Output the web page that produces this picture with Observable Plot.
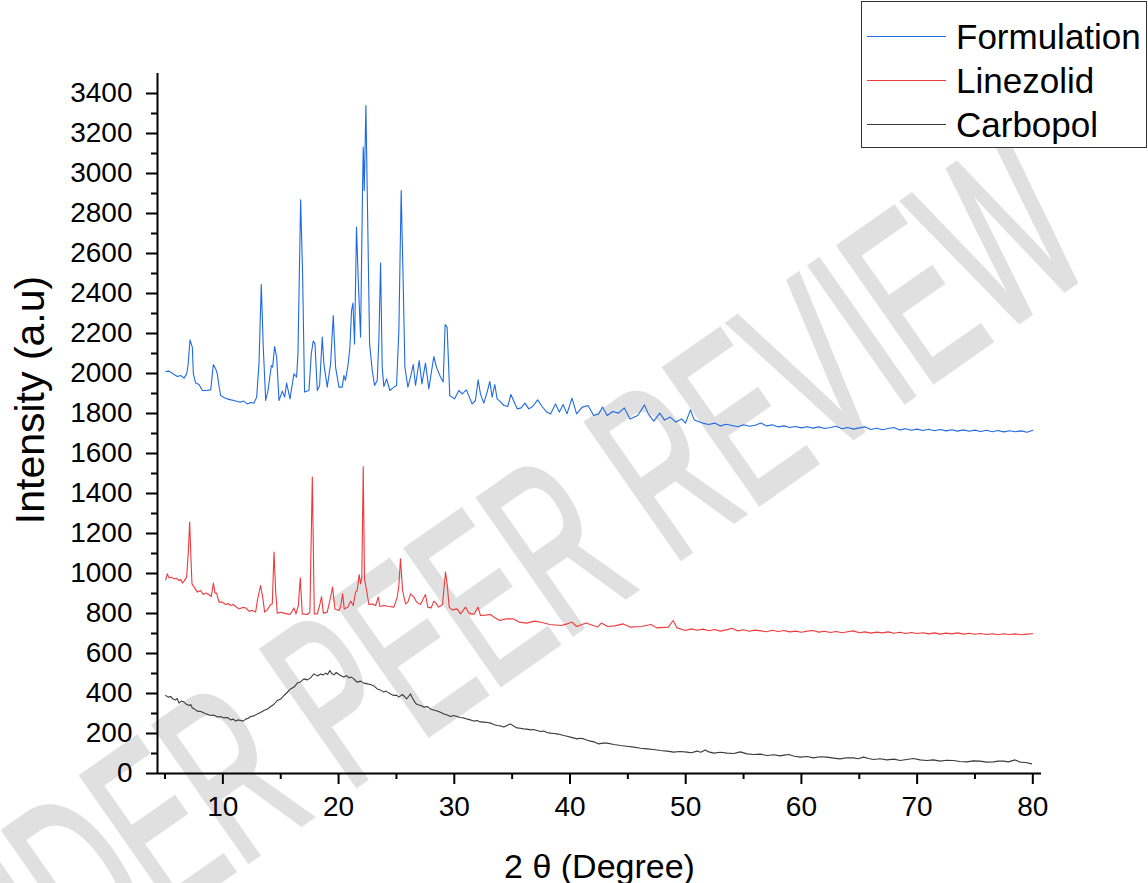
<!DOCTYPE html>
<html>
<head>
<meta charset="utf-8">
<script src="https://cdn.jsdelivr.net/npm/d3@7"></script>
<script src="https://cdn.jsdelivr.net/npm/@observablehq/plot@0.6"></script>
<style>
html, body { margin: 0; padding: 0; background: #fff; }
#wrap { position: relative; width: 1148px; height: 883px; overflow: hidden; font-family: "Liberation Sans", Arial, sans-serif; }
#wm { position: absolute; left: 468px; top: 606px; transform: translate(-50%, -50%) rotate(-35deg) scaleX(0.55);
      font-size: 240px; line-height: 1; white-space: nowrap; color: #e0e0e0; -webkit-text-stroke: 5px #e0e0e0; z-index: 0; }
#chart { position: absolute; left: 0; top: 0; z-index: 1; }
#ytitle { position: absolute; left: 30px; top: 400px; transform: translate(-50%, -50%) rotate(-90deg);
          font-size: 41px; line-height: 1; white-space: nowrap; color: #000; z-index: 2; }
#legend { position: absolute; left: 861px; top: 1px; width: 286px; height: 147px; border: 1px solid #333;
          box-sizing: border-box; background: #fff; z-index: 2; }
.sw { position: absolute; left: 5px; width: 79px; height: 1.3px; }
.lt { position: absolute; left: 94px; height: 44px; display: flex; align-items: center; font-size: 35px; color: #000; white-space: nowrap; }
</style>
</head>
<body>
<div id="wrap">
  <div id="wm">UNDER PEER REVIEW</div>
  <div id="chart"></div>
  <div id="ytitle"></div>
  <div id="legend"></div>
</div>
<script>
// ---- series names & colours ----
const seriesNames = ["Formulation", "Linezolid", "Carbopol"];
const seriesColors = ["#1f6ae2", "#ee3a3d", "#3a3a3a"];

// ---- axis settings ----
const xTitle = "2 θ (Degree)";
const yTitle = "Intensity (a.u)";
const xDomain = [4.35, 80.75];
const yDomain = [0, 3500];
const xTicks = [10, 20, 30, 40, 50, 60, 70, 80];
const xMinorTicks = [5, 15, 25, 35, 45, 55, 65, 75];
const yTicks = [0, 200, 400, 600, 800, 1000, 1200, 1400, 1600, 1800, 2000, 2200, 2400, 2600, 2800, 3000, 3200, 3400];
const yMinorTicks = [100, 300, 500, 700, 900, 1100, 1300, 1500, 1700, 1900, 2100, 2300, 2500, 2700, 2900, 3100, 3300];

// ---- data: [2θ, intensity] ----
const formulation = [
[5.06,2010],[5.35,2012],[5.78,1995],[6.07,1985],[6.36,1990],[6.64,1977],[6.87,1998],[6.99,2040],[7.16,2168],[7.36,2132],
[7.45,1998],[7.65,1952],[7.94,1945],[8.23,1915],[8.51,1915],[8.95,1918],[9.09,1998],[9.18,2045],[9.38,2023],[9.52,1998],
[9.67,1935],[9.81,1890],[10.1,1880],[10.39,1873],[10.7,1868],[10.96,1865],[11.25,1860],[11.54,1857],[11.8,1862],[12.11,1848],
[12.4,1855],[12.69,1852],[12.92,1882],[13.12,2048],[13.32,2445],[13.49,2132],[13.70,1865],[13.90,1915],[14.19,2040],[14.3,2032],
[14.47,2135],[14.65,2082],[14.85,1865],[15.14,1912],[15.34,1882],[15.51,1952],[15.80,1873],[16.14,1998],[16.37,1982],[16.49,2098],
[16.72,2868],[16.89,2498],[17.06,1907],[17.44,1915],[17.64,2098],[17.81,2162],[17.96,2148],[18.16,1915],[18.36,1940],[18.59,2182],
[18.73,2048],[19.02,1932],[19.31,2048],[19.54,2290],[19.74,2032],[20.03,1932],[20.32,1932],[20.46,1990],[20.6,1965],[20.81,2040],
[20.98,2132],[21.12,2315],[21.24,2352],[21.38,2148],[21.55,2732],[21.7,2465],[21.9,2182],[22.07,2915],[22.13,3132],[22.22,2915],
[22.36,3340],[22.53,2715],[22.68,2148],[22.91,2015],[23.11,1940],[23.34,1965],[23.48,2165],[23.63,2552],[23.77,2032],[23.91,1935],
[24.15,1973],[24.43,1915],[24.78,1932],[25.01,1940],[25.21,2215],[25.41,2915],[25.58,2465],[25.73,2032],[25.99,1932],[26.22,1982],
[26.45,2045],[26.65,1940],[26.97,2065],[27.2,1948],[27.51,2052],[27.8,1923],[28.23,2085],[28.46,2032],[28.81,1982],[29.04,1957],
[29.21,2245],[29.38,2232],[29.61,1890],[30.02,1873],[30.39,1915],[30.68,1898],[31.05,1918],[31.54,1848],[31.83,1865],[32.06,1968],
[32.26,1898],[32.55,1852],[32.84,1907],[33.07,1960],[33.27,1882],[33.5,1945],[33.7,1873],[33.93,1862],[34.29,1840],[34.62,1835],
[34.89,1895],[35.12,1865],[35.45,1823],[35.78,1828],[36.11,1852],[36.44,1823],[36.77,1835],[37.2,1868],[37.59,1835],[37.99,1807],
[38.32,1798],[38.75,1848],[39.08,1807],[39.41,1845],[39.74,1798],[40.17,1877],[40.57,1798],[41.06,1832],[41.56,1840],[42.05,1790],
[42.48,1798],[42.81,1832],[43.21,1790],[43.7,1810],[44.2,1802],[44.69,1828],[45.19,1773],[45.85,1790],[46.44,1843],[46.77,1798],
[47.24,1762],[47.76,1802],[48.16,1768],[48.66,1782],[49.15,1757],[49.65,1773],[49.98,1752],[50.41,1818],[50.74,1768],[51.46,1752],
[52.0,1745],[52.5,1752],[53.0,1738],[53.5,1746],[54.0,1740],[54.5,1734],[55.0,1744],[55.5,1736],[56.0,1741],[56.5,1752],
[57.0,1738],[57.5,1744],[58.0,1733],[58.5,1738],[59.0,1730],[59.5,1735],[60.0,1728],[60.5,1734],[61.0,1727],[61.5,1733],
[62.0,1725],[62.5,1730],[63.0,1736],[63.5,1724],[64.0,1730],[64.5,1722],[65.0,1728],[65.5,1733],[66.0,1720],[66.5,1726],
[67.0,1719],[67.5,1725],[68.0,1730],[68.5,1718],[69.0,1724],[69.5,1716],[70.0,1722],[70.5,1715],[71.0,1721],[71.5,1714],
[72.0,1720],[72.5,1713],[73.0,1719],[73.5,1712],[74.0,1718],[74.5,1711],[75.0,1717],[75.5,1710],[76.0,1716],[76.5,1709],
[77.0,1715],[77.5,1708],[78.0,1714],[78.5,1709],[79.0,1713],[79.5,1706],[80.0,1716]
];

const linezolid = [
[5.06,968],[5.2,998],[5.35,978],[5.55,982],[5.78,973],[6.0,976],[6.21,965],[6.35,970],[6.5,952],[6.64,962],
[6.87,982],[7.02,1115],[7.13,1257],[7.25,1065],[7.33,948],[7.56,928],[7.79,907],[8.08,915],[8.31,895],[8.51,902],
[8.8,895],[9.0,885],[9.18,952],[9.32,902],[9.46,902],[9.67,857],[9.95,857],[10.24,845],[10.45,850],[10.67,840],
[10.9,845],[11.11,835],[11.39,823],[11.7,830],[11.97,828],[12.26,812],[12.55,815],[12.83,807],[12.98,865],[13.26,940],
[13.44,882],[13.61,807],[13.84,818],[14.13,845],[14.27,848],[14.42,1107],[14.56,915],[14.7,802],[15.0,806],[15.28,802],
[15.55,798],[15.8,795],[16.0,812],[16.14,828],[16.32,798],[16.52,840],[16.69,978],[16.86,798],[17.29,795],[17.52,807],
[17.73,1482],[17.9,798],[18.16,798],[18.36,840],[18.53,885],[18.68,802],[19.02,807],[19.31,882],[19.48,932],[19.68,823],
[20.03,815],[20.17,832],[20.35,898],[20.49,823],[20.81,832],[21.04,862],[21.27,840],[21.47,907],[21.61,915],[21.78,995],
[21.9,948],[22.01,982],[22.13,1535],[22.24,973],[22.42,915],[22.62,845],[22.91,848],[23.2,840],[23.43,882],[23.57,835],
[23.91,840],[24.35,835],[24.78,832],[25.07,882],[25.21,940],[25.35,1073],[25.53,915],[25.79,848],[25.99,857],[26.22,898],
[26.51,882],[26.74,857],[27.08,845],[27.31,873],[27.51,895],[27.71,832],[28.0,828],[28.23,862],[28.41,852],[28.66,832],
[28.98,845],[29.24,1007],[29.38,948],[29.56,832],[29.82,818],[30.25,823],[30.54,798],[30.97,832],[31.26,802],[31.69,795],
[32.06,832],[32.26,790],[32.69,792],[33.13,795],[33.41,782],[33.93,765],[34.46,773],[35.12,773],[35.61,757],[36.27,752],
[36.93,762],[37.59,755],[38.25,745],[39.25,740],[39.74,748],[40.17,757],[40.57,735],[41.39,752],[42.38,732],[42.71,752],
[43.27,735],[43.87,738],[44.6,748],[45.19,732],[46.18,735],[47.0,745],[47.5,728],[48.49,732],[48.92,765],[49.25,728],
[49.98,715],[50.47,723],[51.0,716],[51.5,722],[52.0,714],[52.5,720],[53.0,712],[53.5,718],[54.0,726],[54.5,713],
[55.0,719],[55.5,711],[56.0,717],[56.5,713],[57.0,709],[57.5,716],[58.0,710],[58.5,715],[59.0,708],[59.5,712],
[60.0,706],[60.5,712],[61.0,715],[61.5,707],[62.0,711],[62.5,705],[63.0,710],[63.5,704],[64.0,709],[64.5,713],
[65.0,704],[65.5,708],[66.0,702],[66.5,707],[67.0,703],[67.5,708],[68.0,701],[68.5,706],[69.0,700],[69.5,705],
[70.0,700],[70.5,704],[71.0,698],[71.5,703],[72.0,697],[72.5,702],[73.0,698],[73.5,703],[74.0,697],[74.5,701],
[75.0,696],[75.5,700],[76.0,695],[76.5,699],[77.0,694],[77.5,699],[78.0,695],[78.5,698],[79.0,694],[79.5,697],[80.0,699]
];

const carbopol = [
[5.06,390],[5.28,382],[5.49,385],[5.7,372],[5.92,368],[6.05,375],[6.21,352],[6.4,362],[6.64,357],[6.85,346],
[7.08,340],[7.22,345],[7.36,327],[7.55,322],[7.79,312],[8.1,310],[8.37,302],[8.65,296],[8.95,290],[9.2,292],
[9.52,282],[9.8,285],[10.1,278],[10.4,280],[10.67,268],[10.9,272],[11.1,262],[11.3,268],[11.54,265],[11.75,262],
[11.97,272],[12.2,276],[12.4,285],[12.7,288],[12.98,298],[13.25,305],[13.55,315],[13.85,322],[14.13,335],[14.4,345],
[14.7,365],[15.0,372],[15.28,390],[15.55,405],[15.85,423],[16.15,432],[16.43,452],[16.7,458],[17.01,473],[17.3,468],
[17.58,478],[17.75,490],[17.87,498],[18.15,488],[18.45,498],[18.65,492],[18.88,502],[19.05,495],[19.25,515],[19.4,500],
[19.6,493],[19.8,505],[20.03,495],[20.25,488],[20.46,482],[20.7,490],[20.89,478],[21.1,482],[21.32,473],[21.45,465],
[21.61,457],[21.9,462],[22.19,452],[22.5,448],[22.76,445],[23.05,438],[23.34,423],[23.6,418],[23.91,407],[24.1,412],
[24.35,402],[24.55,396],[24.78,390],[25.0,392],[25.21,382],[25.35,388],[25.5,395],[25.7,385],[25.87,373],[26.05,385],
[26.22,398],[26.35,380],[26.51,365],[26.65,352],[26.79,345],[27.1,340],[27.37,332],[27.65,335],[27.94,323],[28.2,318],
[28.52,312],[28.8,306],[29.1,298],[29.4,292],[29.67,285],[29.95,290],[30.25,285],[30.5,280],[30.82,278],[31.1,272],
[31.4,268],[31.7,262],[31.97,265],[32.25,258],[32.55,257],[32.85,255],[33.13,252],[33.4,245],[33.7,240],[34.0,238],
[34.28,232],[34.55,240],[34.85,248],[35.15,236],[35.43,228],[35.7,226],[36.0,223],[36.3,222],[36.58,218],[36.85,220],
[37.16,215],[37.45,210],[37.73,212],[38.0,205],[38.31,202],[38.6,200],[38.88,198],[39.15,195],[39.46,190],[39.75,186],
[40.03,182],[40.3,178],[40.61,173],[40.9,176],[41.19,173],[41.5,166],[41.76,162],[42.1,158],[42.48,148],[42.85,152],
[43.2,152],[43.8,145],[44.35,140],[44.9,136],[45.51,132],[46.1,126],[46.66,123],[47.2,120],[47.81,115],[48.4,112],
[48.96,107],[49.5,110],[50.11,107],[50.5,104],[50.97,112],[51.3,106],[51.69,118],[52.0,108],[52.41,102],[53.0,106],
[53.57,102],[54.15,100],[54.72,108],[55.3,98],[55.87,95],[56.45,97],[57.02,90],[57.6,94],[58.17,88],[58.5,92],
[58.89,95],[59.4,86],[59.9,82],[60.5,85],[61.05,78],[61.6,84],[62.2,82],[62.8,77],[63.35,73],[63.9,79],
[64.5,78],[64.9,74],[65.37,82],[65.8,75],[66.23,70],[66.8,74],[67.38,68],[68.0,72],[68.53,65],[69.1,70],
[69.69,75],[70.25,68],[70.84,65],[71.4,68],[71.99,62],[72.55,66],[73.14,65],[73.7,60],[74.29,58],[74.85,63],
[75.44,62],[76.0,57],[76.59,58],[77.0,62],[77.46,62],[77.9,58],[78.46,68],[78.9,57],[79.4,55],[79.9,48]
];

const seriesData = [formulation, linezolid, carbopol];

// ---- build table for Plot ----
const rows = [];
seriesNames.forEach((name, i) => {
  seriesData[i].forEach(([x, y]) => rows.push({series: name, x, y}));
});

const font = "'Liberation Sans', Arial, Helvetica, sans-serif";

const chart = Plot.plot({
  width: 1148,
  height: 883,
  marginLeft: 157,
  marginRight: 107,
  marginTop: 73,
  marginBottom: 110,
  style: {background: "transparent", fontFamily: font, color: "#000", overflow: "visible"},
  x: {domain: xDomain},
  y: {domain: yDomain},
  color: {domain: seriesNames, range: seriesColors},
  marks: [
    Plot.line(rows, {x: "x", y: "y", z: "series", stroke: "series", strokeWidth: 1.1}),
    Plot.ruleY([yDomain[0]], {stroke: "#000", strokeWidth: 2}),
    Plot.ruleX([xDomain[0]], {stroke: "#000", strokeWidth: 2}),
    Plot.axisX(xTicks, {tickSize: 11, tickPadding: 12, fontSize: 28, strokeWidth: 2, tickFormat: "d", label: null}),
    Plot.axisX(xMinorTicks, {tickSize: 6, strokeWidth: 2, tickFormat: () => "", label: null}),
    Plot.axisY(yTicks, {tickSize: 11, tickPadding: 14, fontSize: 28, strokeWidth: 2, tickFormat: "d", label: null}),
    Plot.axisY(yMinorTicks, {tickSize: 6, strokeWidth: 2, tickFormat: () => "", label: null}),
    Plot.axisX([], {tickSize: 0, label: xTitle, labelAnchor: "center", labelOffset: 104, fontSize: 34, labelArrow: "none"})
  ]
});
document.getElementById("chart").appendChild(chart);
document.getElementById("ytitle").textContent = yTitle;

// ---- legend ----
const legend = document.getElementById("legend");
seriesNames.forEach((name, i) => {
  const cy = 35 + 44 * i;
  const sw = document.createElement("div");
  sw.className = "sw";
  sw.style.top = (cy - 1) + "px";
  sw.style.background = seriesColors[i];
  legend.appendChild(sw);
  const t = document.createElement("div");
  t.className = "lt";
  t.style.top = (cy - 22) + "px";
  t.textContent = name;
  legend.appendChild(t);
});
</script>
</body>
</html>
